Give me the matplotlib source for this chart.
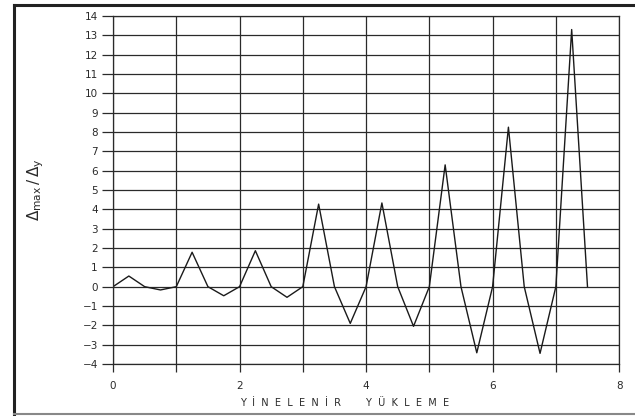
import numpy as np
import matplotlib
matplotlib.use("Agg")
import matplotlib.pyplot as plt
from matplotlib.lines import Line2D

# Cyclic loading: ratio of max displacement to yield displacement
cycle = [0.0, 0.25, 0.5, 0.75, 1.0, 1.25, 1.5, 1.75, 2.0, 2.25, 2.5, 2.75,
         3.0, 3.25, 3.5, 3.75, 4.0, 4.25, 4.5, 4.75, 5.0, 5.25, 5.5, 5.75,
         6.0, 6.25, 6.5, 6.75, 7.0, 7.25, 7.5]
ductility = [0.0, 0.55, 0.0, -0.17, 0.0, 1.78, 0.0, -0.47, 0.0, 1.86, 0.0, -0.55,
             0.0, 4.27, 0.0, -1.9, 0.0, 4.33, 0.0, -2.05, 0.0, 6.3, 0.0, -3.42,
             0.0, 8.25, 0.0, -3.45, 0.0, 13.3, 0.0]
x_ticks = [0, 2, 4, 6, 8]
y_ticks = list(range(-4, 15))

plt.rcParams["mathtext.fontset"] = "dejavusans"
ink = "#2a2a2a"

fig = plt.figure(figsize=(6.35, 4.16), dpi=100)
ax = fig.add_axes([0.178, 0.125, 0.797, 0.8365])

ax.plot(cycle, ductility, color="#1a1a1a", lw=1.0)

ax.set_xlim(0, 8)
ax.set_ylim(-4, 14)
ax.set_xticks(x_ticks)
ax.set_xticks(range(0, 9), minor=True)
ax.set_yticks(y_ticks)
ax.grid(True, which="both", color=ink, lw=0.9)
ax.set_axisbelow(True)
for s in ax.spines.values():
    s.set_color(ink)
    s.set_linewidth(0.9)
ax.tick_params(axis="y", direction="out", length=8, width=0.9, color=ink,
               labelsize=7.5, labelcolor=ink, pad=3)
ax.tick_params(axis="x", which="both", direction="out", length=6, width=0.9,
               color=ink, labelsize=7.5, labelcolor=ink, pad=6)
ax.set_yticklabels([str(v).replace("-", "\u2212") for v in y_ticks])

ax.set_ylabel(r"$\Delta_{\mathrm{max}}\,/\,\Delta_{\mathrm{y}}$", fontsize=11,
              color=ink, labelpad=26)

# spaced-out axis caption
word1 = "  ".join("YİNELENİR")
word2 = "  ".join("YÜKLEME")
fig.text(0.543, 0.032, word1 + "        " + word2, ha="center",
         va="center", fontsize=7, color=ink)

# scanned page frame
fig.add_artist(Line2D([0.022, 0.022], [0.0, 0.988], transform=fig.transFigure,
                      color="#222222", lw=2.2))
fig.add_artist(Line2D([0.022, 1.0], [0.988, 0.988], transform=fig.transFigure,
                      color="#222222", lw=2.2))
fig.add_artist(Line2D([0.022, 1.0], [0.004, 0.004], transform=fig.transFigure,
                      color="#888888", lw=1.5))

fig.savefig("out.png", dpi=100)
